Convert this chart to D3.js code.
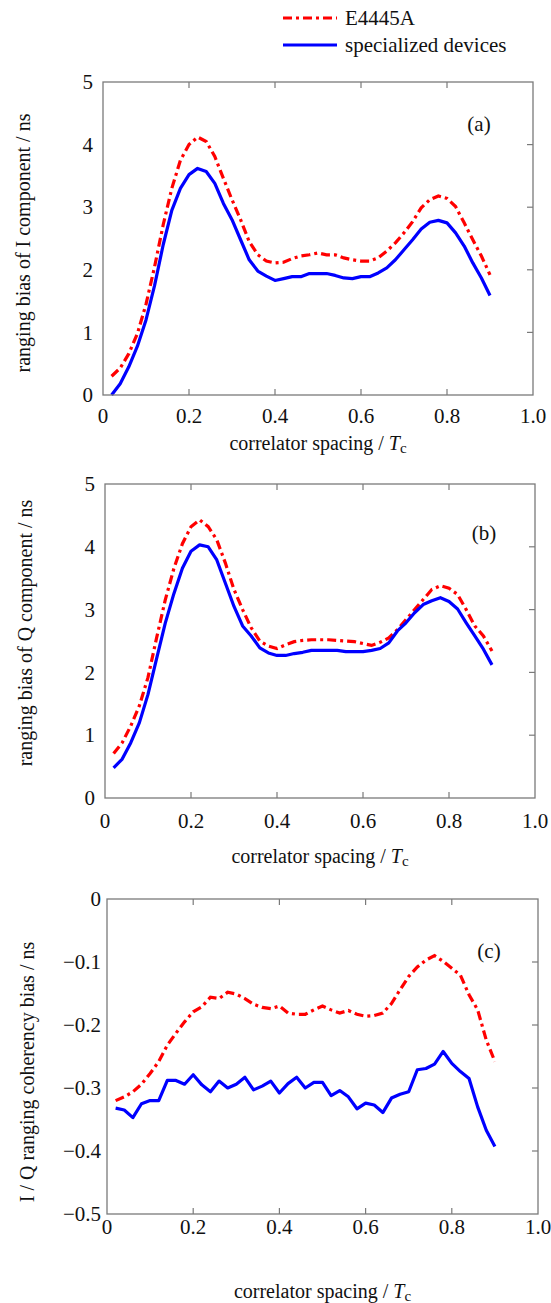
<!DOCTYPE html>
<html>
<head>
<meta charset="utf-8">
<script src="https://cdn.jsdelivr.net/npm/d3@7"></script>
<style>
  body { margin: 0; background: #fff; }
  text { font-family: "Liberation Serif", "Times New Roman", serif; fill: #111; }
</style>
</head>
<body>
<div id="chart"></div>
<script>
// ============================================
// DATA
// ============================================

const spacing = [0.02, 0.04, 0.06, 0.08, 0.10, 0.12, 0.14, 0.16, 0.18, 0.20,
  0.22, 0.24, 0.26, 0.28, 0.30, 0.32, 0.34, 0.36, 0.38, 0.40,
  0.42, 0.44, 0.46, 0.48, 0.50, 0.52, 0.54, 0.56, 0.58, 0.60,
  0.62, 0.64, 0.66, 0.68, 0.70, 0.72, 0.74, 0.76, 0.78, 0.80,
  0.82, 0.84, 0.86, 0.88, 0.90];

const seriesNames = ['E4445A', 'specialized devices'];

// (a) I component
const iE4445A = [0.30, 0.43, 0.66, 0.98, 1.45, 2.05, 2.72, 3.30, 3.75, 4.00,
  4.12, 4.05, 3.81, 3.46, 3.12, 2.80, 2.45, 2.24, 2.14, 2.11,
  2.12, 2.18, 2.22, 2.24, 2.27, 2.24, 2.24, 2.19, 2.16, 2.14,
  2.14, 2.19, 2.30, 2.43, 2.59, 2.77, 2.99, 3.12, 3.18, 3.14,
  3.01, 2.75, 2.48, 2.22, 1.92];
const iDevices = [0.00, 0.18, 0.45, 0.78, 1.20, 1.75, 2.40, 2.95, 3.30, 3.52,
  3.62, 3.57, 3.38, 3.06, 2.80, 2.48, 2.16, 1.98, 1.90, 1.83,
  1.86, 1.89, 1.89, 1.94, 1.94, 1.94, 1.91, 1.87, 1.86, 1.89,
  1.89, 1.95, 2.03, 2.16, 2.32, 2.48, 2.65, 2.76, 2.79, 2.75,
  2.59, 2.38, 2.11, 1.87, 1.59];

// (b) Q component
const qE4445A = [0.71, 0.88, 1.15, 1.47, 1.92, 2.55, 3.15, 3.65, 4.05, 4.32,
  4.43, 4.32, 4.11, 3.74, 3.32, 3.00, 2.71, 2.50, 2.42, 2.38,
  2.44, 2.49, 2.51, 2.52, 2.52, 2.52, 2.51, 2.50, 2.49, 2.46,
  2.43, 2.48, 2.55, 2.68, 2.84, 3.00, 3.16, 3.32, 3.38, 3.34,
  3.24, 3.00, 2.74, 2.58, 2.34];
const qDevices = [0.48, 0.62, 0.88, 1.20, 1.65, 2.22, 2.78, 3.25, 3.66, 3.93,
  4.03, 4.00, 3.79, 3.42, 3.05, 2.74, 2.58, 2.39, 2.31, 2.27,
  2.27, 2.30, 2.32, 2.35, 2.35, 2.35, 2.35, 2.33, 2.33, 2.33,
  2.35, 2.38, 2.47, 2.66, 2.79, 2.95, 3.08, 3.14, 3.19, 3.13,
  3.01, 2.79, 2.58, 2.37, 2.12];

// (c) I/Q coherency
const cE4445A = [-0.320, -0.314, -0.306, -0.294, -0.277, -0.258, -0.232, -0.213, -0.195, -0.179,
  -0.171, -0.156, -0.158, -0.148, -0.151, -0.158, -0.167, -0.172, -0.174, -0.170,
  -0.181, -0.183, -0.183, -0.176, -0.170, -0.176, -0.181, -0.177, -0.183, -0.186,
  -0.185, -0.181, -0.166, -0.144, -0.123, -0.108, -0.097, -0.090, -0.099, -0.110,
  -0.121, -0.152, -0.176, -0.224, -0.258];
const cDevices = [-0.332, -0.335, -0.347, -0.325, -0.320, -0.320, -0.288, -0.288, -0.294, -0.279,
  -0.295, -0.306, -0.289, -0.300, -0.294, -0.283, -0.303, -0.297, -0.289, -0.308,
  -0.293, -0.283, -0.300, -0.291, -0.291, -0.312, -0.304, -0.314, -0.333, -0.324,
  -0.327, -0.339, -0.316, -0.310, -0.306, -0.271, -0.269, -0.262, -0.242, -0.261,
  -0.274, -0.285, -0.330, -0.367, -0.393];

const xTicks = [0, 0.2, 0.4, 0.6, 0.8, 1.0];
const xTickLabels = ['0', '0.2', '0.4', '0.6', '0.8', '1.0'];
const yTicksAB = [0, 1, 2, 3, 4, 5];
const yTicksC = [0, -0.1, -0.2, -0.3, -0.4, -0.5];
const yTickLabelsC = ['0', '\u22120.1', '\u22120.2', '\u22120.3', '\u22120.4', '\u22120.5'];

// ============================================
// SETUP
// ============================================

const W = 551, H = 1303;
const red = '#ff0000', blue = '#0000ff';
const dash = '9,4,3,4';
const axisColor = '#7a7a7a';

const svg = d3.select('#chart').append('svg')
  .attr('width', W).attr('height', H);

const panels = [
  { box: [103, 533, 82, 395], yDomain: [0, 5], yTicks: yTicksAB, yLabels: yTicksAB.map(String),
    red: iE4445A, blue: iDevices, tag: '(a)', tagPos: [479, 131],
    yTitle: 'ranging bias of I component / ns', yTitlePos: [23, 243],
    tickBase: 423, titleBase: 450, yLabGap: 10 },
  { box: [105, 535, 484, 798], yDomain: [0, 5], yTicks: yTicksAB, yLabels: yTicksAB.map(String),
    red: qE4445A, blue: qDevices, tag: '(b)', tagPos: [484, 540],
    yTitle: 'ranging bias of Q component / ns', yTitlePos: [25, 633],
    tickBase: 828, titleBase: 863, yLabGap: 10 },
  { box: [107, 538, 899, 1214], yDomain: [-0.5, 0], yTicks: yTicksC, yLabels: yTickLabelsC,
    red: cE4445A, blue: cDevices, tag: '(c)', tagPos: [489, 958],
    yTitle: 'I / Q ranging coherency bias / ns', yTitlePos: [27, 1072],
    tickBase: 1234, titleBase: 1298, yLabGap: 6 }
];

// ============================================
// DRAW PANELS
// ============================================

function drawPanel(p) {
  const [x0, x1, y0, y1] = p.box;
  const x = d3.scaleLinear().domain([0, 1]).range([x0, x1]);
  const y = d3.scaleLinear().domain(p.yDomain).range([y1, y0]);
  const g = svg.append('g');
  const tickLen = 6;

  // curves
  const line = d3.line().x((d, i) => x(spacing[i])).y(d => y(d));
  g.append('path').datum(p.red)
    .attr('d', line).attr('fill', 'none')
    .attr('stroke', red).attr('stroke-width', 3.2)
    .attr('stroke-dasharray', dash);
  g.append('path').datum(p.blue)
    .attr('d', line).attr('fill', 'none')
    .attr('stroke', blue).attr('stroke-width', 3.2)
    .attr('stroke-linejoin', 'round');

  // frame
  g.append('rect')
    .attr('x', x0).attr('y', y0)
    .attr('width', x1 - x0).attr('height', y1 - y0)
    .attr('fill', 'none').attr('stroke', axisColor).attr('stroke-width', 1.3);

  // inward ticks: bottom, top, right
  const inner = xTicks.filter(t => t > 0 && t < 1);
  g.selectAll('.xb').data(inner).join('line')
    .attr('x1', d => x(d)).attr('x2', d => x(d))
    .attr('y1', y1).attr('y2', y1 - tickLen)
    .attr('stroke', axisColor).attr('stroke-width', 1.2);
  g.selectAll('.xt').data(inner).join('line')
    .attr('x1', d => x(d)).attr('x2', d => x(d))
    .attr('y1', y0).attr('y2', y0 + tickLen)
    .attr('stroke', axisColor).attr('stroke-width', 1.2);
  const innerY = p.yTicks.filter(t => t !== p.yDomain[0] && t !== p.yDomain[1]);
  g.selectAll('.yr').data(innerY).join('line')
    .attr('x1', x1).attr('x2', x1 - tickLen)
    .attr('y1', d => y(d)).attr('y2', d => y(d))
    .attr('stroke', axisColor).attr('stroke-width', 1.2);

  // tick labels
  g.selectAll('.xl').data(xTicks).join('text')
    .attr('x', d => x(d)).attr('y', p.tickBase)
    .attr('text-anchor', 'middle').attr('font-size', 21)
    .text((d, i) => xTickLabels[i]);
  g.selectAll('.yl').data(p.yTicks).join('text')
    .attr('x', x0 - p.yLabGap).attr('y', d => y(d))
    .attr('dy', '0.34em')
    .attr('text-anchor', 'end').attr('font-size', 21)
    .text((d, i) => p.yLabels[i]);

  // axis titles
  const xt = g.append('text')
    .attr('x', (x0 + x1) / 2).attr('y', p.titleBase)
    .attr('text-anchor', 'middle').attr('font-size', 20);
  xt.append('tspan').text('correlator spacing / ');
  xt.append('tspan').attr('font-style', 'italic').text('T');
  xt.append('tspan').attr('font-size', 15).attr('dy', 3).text('c');

  g.append('text')
    .attr('transform', `translate(${p.yTitlePos[0]},${p.yTitlePos[1]}) rotate(-90)`)
    .attr('text-anchor', 'middle').attr('dy', '0.34em')
    .attr('font-size', 20)
    .text(p.yTitle);

  // panel tag
  g.append('text')
    .attr('x', p.tagPos[0]).attr('y', p.tagPos[1])
    .attr('text-anchor', 'middle').attr('font-size', 21)
    .text(p.tag);
}

panels.forEach(drawPanel);

// ============================================
// LEGEND
// ============================================

const legend = svg.append('g');
const legendY = [18, 45];
legend.selectAll('line').data(seriesNames).join('line')
  .attr('x1', 283).attr('x2', 337)
  .attr('y1', (d, i) => legendY[i]).attr('y2', (d, i) => legendY[i])
  .attr('stroke', (d, i) => i === 0 ? red : blue)
  .attr('stroke-width', 3.2)
  .attr('stroke-dasharray', (d, i) => i === 0 ? dash : null);
legend.selectAll('text').data(seriesNames).join('text')
  .attr('x', 345).attr('y', (d, i) => legendY[i])
  .attr('dy', '0.34em').attr('font-size', 21)
  .text(d => d);
</script>
</body>
</html>
